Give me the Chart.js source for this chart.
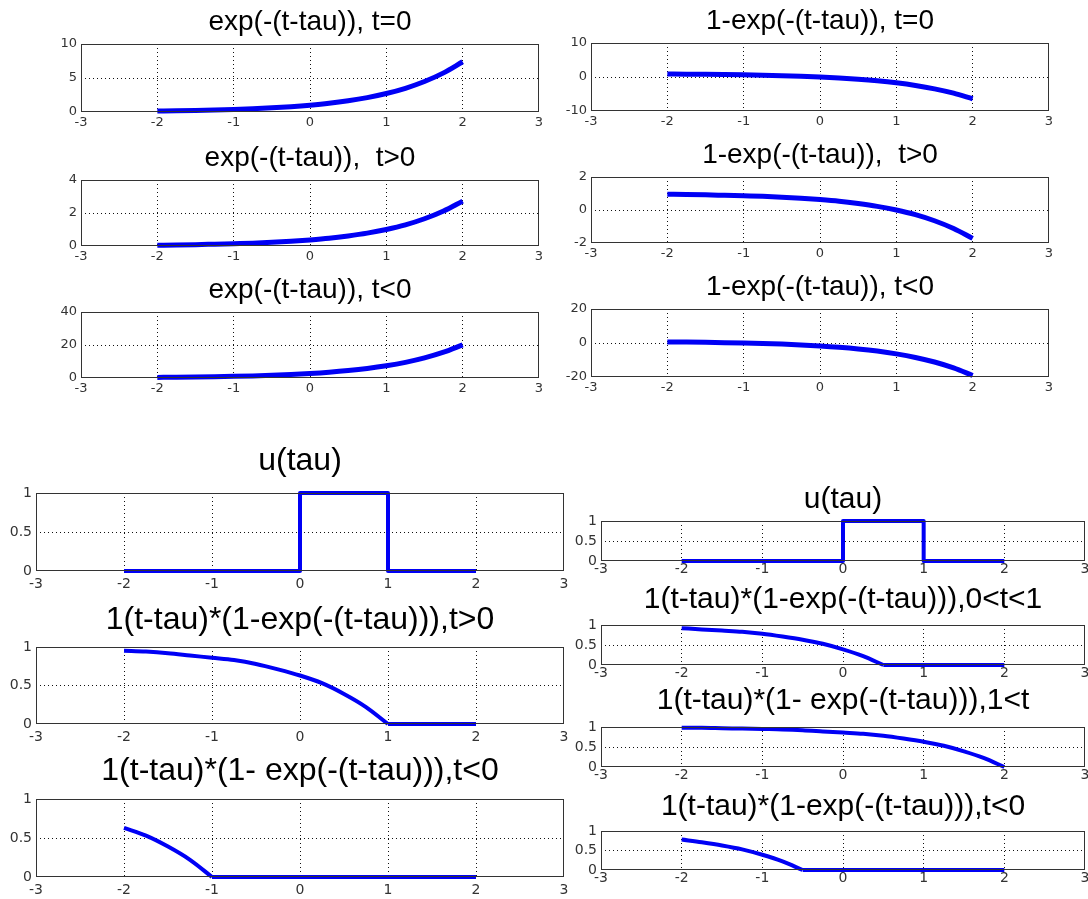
<!DOCTYPE html>
<html><head><meta charset="utf-8">
<script src="https://cdn.jsdelivr.net/npm/chart.js@4.4.1/dist/chart.umd.min.js"></script>
<style>
html,body{margin:0;padding:0;background:#fff;width:1088px;height:899px;overflow:hidden;position:relative}
canvas{position:absolute}
</style></head><body>
<script>
// ---- data ----
const tau = [-2,-1.75,-1.5,-1.25,-1,-0.75,-0.5,-0.25,0,0.25,0.5,0.75,1,1.25,1.5,1.75,2];
const expT0  = [0.14,0.17,0.22,0.29,0.37,0.47,0.61,0.78,1.00,1.28,1.65,2.12,2.72,3.49,4.48,5.75,7.39];
const expTpos= [0.05,0.06,0.08,0.11,0.14,0.17,0.22,0.29,0.37,0.47,0.61,0.78,1.00,1.28,1.65,2.12,2.72];
const expTneg= [0.37,0.47,0.61,0.78,1.00,1.28,1.65,2.12,2.72,3.49,4.48,5.75,7.39,9.49,12.18,15.64,20.09];
const oneMinusT0  = [0.86,0.83,0.78,0.71,0.63,0.53,0.39,0.22,0.00,-0.28,-0.65,-1.12,-1.72,-2.49,-3.48,-4.75,-6.39];
const oneMinusTpos= [0.95,0.94,0.92,0.89,0.86,0.83,0.78,0.71,0.63,0.53,0.39,0.22,0.00,-0.28,-0.65,-1.12,-1.72];
const oneMinusTneg= [0.63,0.53,0.39,0.22,0.00,-0.28,-0.65,-1.12,-1.72,-2.49,-3.48,-4.75,-6.39,-8.49,-11.18,-14.64,-19.09];
const uTau = [-2,0,0,1,1,2];
const uVal = [0,0,1,1,0,0];
const convTpos  = [0.95,0.94,0.92,0.89,0.86,0.83,0.78,0.71,0.63,0.53,0.39,0.22,0,0,0,0,0];
const convTneg  = [0.63,0.53,0.39,0.22,0,0,0,0,0,0,0,0,0,0,0,0,0];
const conv0to1  = [0.92,0.89,0.86,0.83,0.78,0.71,0.63,0.53,0.39,0.22,0,0,0,0,0,0,0];
const conv1lt   = [0.98,0.98,0.97,0.96,0.95,0.94,0.92,0.89,0.86,0.83,0.78,0.71,0.63,0.53,0.39,0.22,0];
const convTneg2 = [0.78,0.71,0.63,0.53,0.39,0.22,0,0,0,0,0,0,0,0,0,0,0];
const xTicks = [-3,-2,-1,0,1,2,3];

// ---- panel layout ----
const FONT = "'Liberation Sans', Arial, sans-serif";
const TICKFONT = "'DejaVu Sans', sans-serif";
const panels = [
 {t:'exp(-(t-tau)), t=0',  xs:tau, ys:expT0,  L:81, R:539, T:44,  B:112, tc:22,  ts:28, ymin:0,  ymax:10, ystep:5,  lw:5, sm:true, fs:13, xp:3},
 {t:'exp(-(t-tau)),  t>0', xs:tau, ys:expTpos,L:81, R:539, T:180, B:246, tc:158, ts:28, ymin:0,  ymax:4,  ystep:2,  lw:5, sm:true, fs:13, xp:3},
 {t:'exp(-(t-tau)), t<0',  xs:tau, ys:expTneg,L:81, R:539, T:312, B:378, tc:290, ts:28, ymin:0,  ymax:40, ystep:20, lw:5, sm:true, fs:13, xp:3},
 {t:'1-exp(-(t-tau)), t=0',  xs:tau, ys:oneMinusT0,  L:591, R:1049, T:43,  B:111, tc:21,  ts:28, ymin:-10, ymax:10, ystep:10, lw:5, sm:true, fs:13, xp:3},
 {t:'1-exp(-(t-tau)),  t>0', xs:tau, ys:oneMinusTpos,L:591, R:1049, T:177, B:243, tc:155, ts:28, ymin:-2,  ymax:2,  ystep:2,  lw:5, sm:true, fs:13, xp:3},
 {t:'1-exp(-(t-tau)), t<0',  xs:tau, ys:oneMinusTneg,L:591, R:1049, T:309, B:377, tc:287, ts:28, ymin:-20, ymax:20, ystep:20, lw:5, sm:true, fs:13, xp:3},
 {t:'u(tau)', xs:uTau, ys:uVal, L:36, R:564, T:493, B:571, tc:461, ts:32, ymin:0, ymax:1, ystep:0.5, lw:4, sm:false, fs:14, xp:6},
 {t:'1(t-tau)*(1-exp(-(t-tau))),t>0',  xs:tau, ys:convTpos, L:36, R:564, T:647, B:724, tc:620, ts:32, ymin:0, ymax:1, ystep:0.5, lw:4, sm:true, fs:14, xp:6},
 {t:'1(t-tau)*(1- exp(-(t-tau))),t<0', xs:tau, ys:convTneg, L:36, R:564, T:799, B:877, tc:771, ts:32, ymin:0, ymax:1, ystep:0.5, lw:4, sm:true, fs:14, xp:6},
 {t:'u(tau)', xs:uTau, ys:uVal, L:601, R:1085, T:521, B:561, tc:500, ts:30, ymin:0, ymax:1, ystep:0.5, lw:4, sm:false, fs:14, xp:1},
 {t:'1(t-tau)*(1-exp(-(t-tau))),0<t<1', xs:tau, ys:conv0to1, L:601, R:1085, T:625, B:665, tc:600, ts:30, ymin:0, ymax:1, ystep:0.5, lw:4, sm:true, fs:14, xp:1},
 {t:'1(t-tau)*(1- exp(-(t-tau))),1<t', xs:tau, ys:conv1lt,  L:601, R:1085, T:727, B:767, tc:701, ts:30, ymin:0, ymax:1, ystep:0.5, lw:4, sm:true, fs:14, xp:1},
 {t:'1(t-tau)*(1-exp(-(t-tau))),t<0',  xs:tau, ys:convTneg2,L:601, R:1085, T:831, B:870, tc:807, ts:30, ymin:0, ymax:1, ystep:0.5, lw:4, sm:true, fs:14, xp:1}
];

const boxPlugin = {
  id:'axbox',
  afterDatasetsDraw(chart){
    const {ctx, chartArea:a} = chart;
    ctx.save();
    ctx.strokeStyle = '#333';
    ctx.lineWidth = 1;
    ctx.strokeRect(Math.round(a.left)+0.5, Math.round(a.top)+0.5, Math.round(a.right-a.left)-1, Math.round(a.bottom-a.top)-1);
    ctx.restore();
  }
};

// split a curve into its smooth part and the flat zero tail (so the corner stays sharp)
function makeDatasets(p){
  const pts = p.xs.map((x,i)=>({x:x, y:p.ys[i]}));
  const base = {borderColor:'#0000f5', borderWidth:p.lw, pointRadius:0, fill:false, tension:0, clip:false,
                borderCapStyle:'butt', borderJoinStyle:'round'};
  if (!p.sm) return [Object.assign({data:pts, cubicInterpolationMode:'default'}, base)];
  let k = -1;
  for (let i = 1; i < p.ys.length; i++) {
    if (p.ys[i] === 0 && p.ys.slice(i).every(v => v === 0)) { k = i; break; }
  }
  if (k < 0 || k === p.ys.length - 1) return [Object.assign({data:pts, cubicInterpolationMode:'monotone'}, base)];
  return [
    Object.assign({data:pts.slice(0, k+1), cubicInterpolationMode:'monotone'}, base),
    Object.assign({data:pts.slice(k), cubicInterpolationMode:'default'}, base)
  ];
}

const fmt = v => String(Math.round(v*100)/100);
const M = 40, BOT = 26, PT = 2;
panels.forEach(p => {
  const cv = document.createElement('canvas');
  const top = p.tc - p.ts/2 - PT;
  const pb = p.T - top - PT - p.ts;
  const W = (p.R - p.L) + 2*M;
  const H = (p.B - top) + BOT;
  cv.width = W; cv.height = H;
  cv.style.left = (p.L - M) + 'px';
  cv.style.top = top + 'px';
  cv.style.width = W + 'px'; cv.style.height = H + 'px';
  document.body.appendChild(cv);
  const hideEdge = (lo, hi) => (c) => (c.tick && (c.tick.value === lo || c.tick.value === hi)) ? 'rgba(0,0,0,0)' : '#111';
  new Chart(cv, {
    type:'line',
    data:{datasets:makeDatasets(p)},
    options:{
      responsive:false, animation:false, devicePixelRatio:1,
      events:[],
      layout:{padding:0},
      plugins:{
        legend:{display:false}, tooltip:{enabled:false},
        title:{display:true, text:p.t, color:'#000',
          font:{family:FONT, size:p.ts, weight:'normal', lineHeight:1},
          padding:{top:PT, bottom:pb}}
      },
      scales:{
        x:{type:'linear', position:'bottom', min:-3, max:3,
           afterBuildTicks(s){ s.ticks = xTicks.map(v=>({value:v})); },
           ticks:{padding:p.xp, color:'#333', autoSkip:false, maxRotation:0, minRotation:0,
                  font:{family:TICKFONT, size:p.fs, lineHeight:1.1}, callback:fmt},
           grid:{drawTicks:false, lineWidth:1, color:hideEdge(-3,3)},
           border:{display:false, dash:[1,3]},
           afterFit(s){ s.height = BOT; }},
        y:{type:'linear', position:'left', min:p.ymin, max:p.ymax,
           ticks:{stepSize:p.ystep, padding:4, color:'#333', autoSkip:false,
                  font:{family:TICKFONT, size:p.fs, lineHeight:1}, callback:fmt},
           grid:{drawTicks:false, lineWidth:1, color:hideEdge(p.ymin,p.ymax)},
           border:{display:false, dash:[1,3]},
           afterFit(s){ s.width = M; }},
        yr:{type:'linear', position:'right', min:p.ymin, max:p.ymax, display:true,
           ticks:{display:false}, grid:{display:false}, border:{display:false},
           afterFit(s){ s.width = M; }}
      }
    },
    plugins:[boxPlugin]
  });
});
</script>
</body></html>
